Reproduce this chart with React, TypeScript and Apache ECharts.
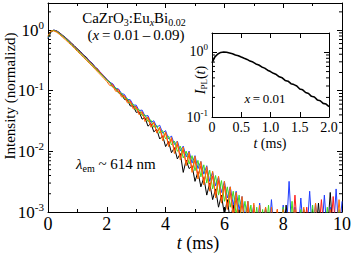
import React, { useEffect, useRef } from 'react';
import * as echarts from 'echarts';

const FONT = 'Liberation Serif';

// time grids (ms)
const tMain: number[] = Array.from({ length: 101 }, (_, i) => Math.round(i * 10) / 100);
const tInset: number[] = Array.from({ length: 41 }, (_, i) => Math.round(i * 5) / 100);

const seriesNames = ['x = 0.01', 'x = 0.03', 'x = 0.05', 'x = 0.07', 'x = 0.09'];
const seriesColors = ['#000000', '#1f3cff', '#ff1a1a', '#3fdc1e', '#ff6a00'];

const blackVals = [
  0.72, 0.93, 1.0, 0.97, 0.9, 0.82, 0.75, 0.68, 0.61, 0.55,
  0.49, 0.445, 0.39, 0.36, 0.31, 0.285, 0.245, 0.225, 0.19, 0.175,
  0.15, 0.14, 0.115, 0.11, 0.092, 0.088, 0.072, 0.07, 0.056, 0.056,
  0.044, 0.045, 0.034, 0.036, 0.026, 0.029, 0.021, 0.023, 0.016, 0.018,
  0.012, 0.0145, 0.0095, 0.0115, 0.0075, 0.0092, 0.0045, 0.0072, 0.0052, 0.0058,
  0.0032, 0.0046, 0.0026, 0.0037, 0.0019, 0.003, 0.0016, 0.0024, 0.0012, 0.0019,
  0.0009, 0.0016, 0.0007, 0.0013, 0.0005, 0.0011, 0.0004, 0.0009, 0.0004, 0.0004,
  0.0008, 0.0004, 0.0004, 0.0004, 0.0012, 0.0004, 0.0004, 0.0004, 0.0004, 0.0004,
  0.0004, 0.0013, 0.0004, 0.0004, 0.0004, 0.0004, 0.0004, 0.0011, 0.0004, 0.0004,
  0.0004, 0.0004, 0.0014, 0.0004, 0.0004, 0.0004, 0.0021, 0.0004, 0.0004, 0.0004,
  0.0004,
];

const blueVals = [
  0.74, 0.95, 1.0, 0.96, 0.89, 0.81, 0.74, 0.67, 0.6, 0.54,
  0.48, 0.435, 0.39, 0.35, 0.315, 0.28, 0.25, 0.222, 0.198, 0.176,
  0.156, 0.137, 0.131, 0.11, 0.107, 0.09, 0.087, 0.072, 0.071, 0.058,
  0.058, 0.047, 0.048, 0.038, 0.039, 0.03, 0.032, 0.025, 0.027, 0.02,
  0.022, 0.016, 0.018, 0.013, 0.0148, 0.0102, 0.0122, 0.0081, 0.0101, 0.0064,
  0.0085, 0.0052, 0.0068, 0.0042, 0.0058, 0.0032, 0.0046, 0.0027, 0.0038, 0.0021,
  0.0032, 0.0017, 0.0026, 0.0013, 0.0022, 0.0011, 0.0018, 0.0008, 0.0015, 0.0007,
  0.0013, 0.0005, 0.0014, 0.0004, 0.0011, 0.0004, 0.0016, 0.0004, 0.0009, 0.0004,
  0.0013, 0.0004, 0.0032, 0.0004, 0.0012, 0.0004, 0.0017, 0.0004, 0.0004, 0.0022,
  0.0004, 0.0014, 0.0004, 0.0004, 0.0019, 0.0004, 0.0012, 0.0004, 0.0024, 0.0004,
  0.0015,
];

const redVals = [
  0.78, 0.96, 0.99, 0.95, 0.88, 0.8, 0.73, 0.66, 0.59, 0.53,
  0.475, 0.43, 0.385, 0.345, 0.31, 0.275, 0.245, 0.22, 0.195, 0.172,
  0.153, 0.133, 0.127, 0.105, 0.104, 0.084, 0.083, 0.068, 0.068, 0.054,
  0.055, 0.043, 0.045, 0.034, 0.037, 0.027, 0.03, 0.021, 0.024, 0.017,
  0.02, 0.013, 0.016, 0.0105, 0.013, 0.0082, 0.0105, 0.0064, 0.0088, 0.005,
  0.0072, 0.0039, 0.0058, 0.0031, 0.0049, 0.0026, 0.0039, 0.0019, 0.0033, 0.0015,
  0.0027, 0.0012, 0.0021, 0.0009, 0.0017, 0.0007, 0.0014, 0.0006, 0.0012, 0.0005,
  0.0011, 0.0004, 0.0009, 0.0004, 0.0004, 0.0008, 0.0004, 0.0004, 0.0011, 0.0004,
  0.0004, 0.0004, 0.0009, 0.0004, 0.0019, 0.0004, 0.0004, 0.0004, 0.0012, 0.0004,
  0.0004, 0.0004, 0.0004, 0.0016, 0.0004, 0.0004, 0.0004, 0.0018, 0.0004, 0.0004,
  0.0004,
];

const greenVals = [
  0.76, 0.96, 0.99, 0.94, 0.87, 0.79, 0.72, 0.65, 0.58, 0.52,
  0.465, 0.42, 0.375, 0.335, 0.3, 0.268, 0.238, 0.212, 0.189, 0.168,
  0.149, 0.138, 0.116, 0.112, 0.093, 0.091, 0.075, 0.074, 0.06, 0.06,
  0.048, 0.049, 0.039, 0.04, 0.031, 0.033, 0.025, 0.027, 0.02, 0.022,
  0.016, 0.018, 0.0128, 0.0148, 0.01, 0.0122, 0.0078, 0.0101, 0.0062, 0.0085,
  0.0048, 0.0071, 0.0038, 0.006, 0.003, 0.0049, 0.0024, 0.004, 0.0019, 0.0033,
  0.0015, 0.0026, 0.0012, 0.0022, 0.0009, 0.0019, 0.0007, 0.0015, 0.0006, 0.0013,
  0.0005, 0.0012, 0.0004, 0.0011, 0.0004, 0.0013, 0.0004, 0.0009, 0.0004, 0.0004,
  0.0012, 0.0004, 0.0004, 0.0015, 0.0004, 0.0004, 0.0011, 0.0004, 0.0004, 0.0004,
  0.0013, 0.0004, 0.0004, 0.0004, 0.0004, 0.0012, 0.0004, 0.0004, 0.0004, 0.0011,
  0.0004,
];

const orangeVals = [
  0.8, 0.97, 0.97, 0.92, 0.84, 0.76, 0.69, 0.62, 0.56, 0.5,
  0.445, 0.4, 0.357, 0.32, 0.285, 0.255, 0.227, 0.202, 0.18, 0.16,
  0.142, 0.122, 0.12, 0.098, 0.098, 0.079, 0.08, 0.063, 0.065, 0.05,
  0.053, 0.04, 0.044, 0.031, 0.036, 0.025, 0.03, 0.02, 0.025, 0.015,
  0.021, 0.012, 0.017, 0.0092, 0.0145, 0.0072, 0.0118, 0.0058, 0.0098, 0.0045,
  0.0083, 0.0035, 0.0068, 0.0028, 0.0056, 0.0022, 0.0047, 0.0017, 0.0039, 0.0014,
  0.0032, 0.0011, 0.0026, 0.0008, 0.0021, 0.0006, 0.0018, 0.0005, 0.0015, 0.0004,
  0.0014, 0.0004, 0.0013, 0.0004, 0.0012, 0.0004, 0.0012, 0.0004, 0.0011, 0.0004,
  0.0011, 0.0004, 0.001, 0.0004, 0.0011, 0.0004, 0.0004, 0.0012, 0.0004, 0.0004,
  0.0004, 0.0014, 0.0004, 0.0004, 0.0004, 0.0004, 0.0011, 0.0004, 0.0004, 0.0016,
  0.0004,
];

const insetVals = [
  0.68, 0.84, 0.93, 0.985, 1.0, 0.99, 0.965, 0.94, 0.9, 0.875,
  0.835, 0.8, 0.77, 0.725, 0.7, 0.655, 0.63, 0.59, 0.565, 0.525,
  0.5, 0.47, 0.45, 0.415, 0.4, 0.365, 0.355, 0.325, 0.315, 0.3,
  0.27, 0.262, 0.238, 0.23, 0.208, 0.203, 0.183, 0.178, 0.162, 0.158,
  0.145,
];

const mainSeriesVals = [blackVals, blueVals, redVals, greenVals, orangeVals];

// axis ranges
const mainX = [0, 10];
const mainY = [0.001, 2.8];
const insetX = [0, 2];
const insetY = [0.1, 1.96];

function minorLogTicks(lo: number, hi: number): number[] {
  const out: number[] = [];
  for (let d = Math.floor(Math.log10(lo)); d <= Math.ceil(Math.log10(hi)); d++) {
    for (let k = 2; k <= 9; k++) {
      const v = k * Math.pow(10, d);
      if (v > lo && v < hi * 0.999) out.push(v);
    }
  }
  return out;
}

const powLabel = (v: number) => {
  const e = Math.log10(v);
  const r = Math.round(e);
  if (Math.abs(e - r) > 1e-6) return '';
  return `{b|10}{s|${r}}`;
};

function powRich(size: number, sup: number) {
  return {
    b: { fontSize: size, fontFamily: FONT, color: '#000', lineHeight: size + 4 },
    s: { fontSize: sup, fontFamily: FONT, color: '#000', lineHeight: sup, verticalAlign: 'top' },
  };
}

const axisLineStyle = { show: true, lineStyle: { color: '#000', width: 1 } };

function tickRenderer(x0: number, x1: number, len: number) {
  return (params: any, api: any) => {
    const v = api.value(1);
    const p0 = api.coord([x0, v]);
    const p1 = api.coord([x1, v]);
    return {
      type: 'group',
      children: [
        { type: 'line', shape: { x1: p0[0], y1: p0[1], x2: p0[0] + len, y2: p0[1] }, style: { stroke: '#000', lineWidth: 1 } },
        { type: 'line', shape: { x1: p1[0] - len, y1: p1[1], x2: p1[0], y2: p1[1] }, style: { stroke: '#000', lineWidth: 1 } },
      ],
    };
  };
}

export default function App() {
  const ref = useRef<HTMLDivElement>(null);
  useEffect(() => {
    const chart = echarts.init(ref.current!, null, { renderer: 'svg' });

    const xBase = (gridIndex: number, range: number[], interval: number, pos: 'bottom' | 'top', labels: boolean, fs: number, fmt: (v: number) => string, minor: boolean) => ({
      type: 'value',
      gridIndex,
      position: pos,
      min: range[0],
      max: range[1],
      interval,
      axisLine: { ...axisLineStyle, onZero: false },
      axisTick: { show: true, inside: true, length: 5, lineStyle: { color: '#000' } },
      minorTick: { show: minor, splitNumber: 2, length: 3, lineStyle: { color: '#000' } },
      splitLine: { show: false },
      axisLabel: { show: labels, fontFamily: FONT, fontSize: fs, color: '#000', margin: 3, formatter: fmt },
    });

    const yBase = (gridIndex: number, range: number[], pos: 'left' | 'right', labels: boolean, fs: number, sup: number) => ({
      type: 'log',
      logBase: 10,
      gridIndex,
      position: pos,
      min: range[0],
      max: range[1],
      axisLine: { ...axisLineStyle, onZero: false },
      axisTick: { show: true, inside: true, length: 5, lineStyle: { color: '#000' } },
      splitLine: { show: false },
      axisLabel: { show: labels, margin: 4, fontFamily: FONT, formatter: powLabel, rich: powRich(fs, sup) },
    });

    const mainLines = mainSeriesVals.map((vals, k) => ({
      type: 'line',
      name: seriesNames[k],
      xAxisIndex: 0,
      yAxisIndex: 0,
      data: tMain.map((t, i) => [t, vals[i]]),
      showSymbol: false,
      symbol: 'none',
      clip: true,
      lineStyle: { color: seriesColors[k], width: 1 },
      z: 2 + k,
    }));

    const minorMain = minorLogTicks(mainY[0], mainY[1]);
    const minorInset = minorLogTicks(insetY[0], insetY[1]);

    const option: any = {
      animation: false,
      backgroundColor: '#fff',
      textStyle: { fontFamily: FONT },
      grid: [
        { left: 48, top: 3, right: 10, bottom: 43, show: false },
        { left: 212, top: 33, width: 117, height: 84, show: true, backgroundColor: '#fff', borderWidth: 0 },
      ],
      xAxis: [
        xBase(0, mainX, 2, 'bottom', true, 18, (v: number) => String(v), true),
        xBase(0, mainX, 2, 'top', false, 18, (v: number) => String(v), true),
        xBase(1, insetX, 0.5, 'bottom', true, 14, (v: number) => (v === 0 ? '0' : v.toFixed(1)), false),
        xBase(1, insetX, 0.5, 'top', false, 14, (v: number) => String(v), false),
      ],
      yAxis: [
        yBase(0, mainY, 'left', true, 17, 11),
        yBase(0, mainY, 'right', false, 17, 11),
        yBase(1, insetY, 'left', true, 14, 9),
        yBase(1, insetY, 'right', false, 14, 9),
      ],
      series: [
        ...mainLines,
        {
          type: 'custom',
          xAxisIndex: 0,
          yAxisIndex: 0,
          data: minorMain.map((v) => [mainX[0], v]),
          renderItem: tickRenderer(mainX[0], mainX[1], 3),
          silent: true,
          clip: false,
          z: 10,
        },
        {
          type: 'line',
          name: 'inset',
          xAxisIndex: 2,
          yAxisIndex: 2,
          data: tInset.map((t, i) => [t, insetVals[i]]),
          showSymbol: false,
          symbol: 'none',
          lineStyle: { color: '#000', width: 1.6 },
          z: 5,
        },
        {
          type: 'custom',
          xAxisIndex: 2,
          yAxisIndex: 2,
          data: minorInset.map((v) => [insetX[0], v]),
          renderItem: tickRenderer(insetX[0], insetX[1], 3),
          silent: true,
          clip: false,
          z: 10,
        },
      ],
      graphic: [
        {
          type: 'text', x: 134, y: 18,
          style: {
            text: '{n|CaZrO}{sub|3}{n|:Eu}{subi|x}{n|Bi}{sub|0.02}',
            align: 'center', verticalAlign: 'middle',
            rich: {
              n: { fontFamily: FONT, fontSize: 15, fill: '#000', lineHeight: 18 },
              sub: { fontFamily: FONT, fontSize: 10, fill: '#000', lineHeight: 10, verticalAlign: 'bottom' },
              subi: { fontFamily: FONT, fontSize: 10, fontStyle: 'italic', fill: '#000', lineHeight: 10, verticalAlign: 'bottom' },
            },
          },
        },
        {
          type: 'text', x: 136, y: 35,
          style: {
            text: '{n|(}{i|x}{n|\u2009=\u20090.01\u2009\u2013\u20090.09)}',
            align: 'center', verticalAlign: 'middle',
            rich: {
              n: { fontFamily: FONT, fontSize: 15, fill: '#000' },
              i: { fontFamily: FONT, fontSize: 15, fontStyle: 'italic', fill: '#000' },
            },
          },
        },
        {
          type: 'text', x: 76, y: 164,
          style: {
            text: '{i|\u03bb}{sub|em}{n| ~ 614 nm}',
            align: 'left', verticalAlign: 'middle',
            rich: {
              n: { fontFamily: FONT, fontSize: 15, fill: '#000', lineHeight: 18 },
              i: { fontFamily: FONT, fontSize: 15, fontStyle: 'italic', fill: '#000', lineHeight: 18 },
              sub: { fontFamily: FONT, fontSize: 10, fill: '#000', lineHeight: 10, verticalAlign: 'bottom' },
            },
          },
        },
        {
          type: 'text', x: 10, y: 96, rotation: Math.PI / 2,
          style: {
            text: 'Intensity (normalizd)',
            fontFamily: FONT, fontSize: 15, fill: '#000',
            align: 'center', verticalAlign: 'middle',
          },
        },
        {
          type: 'text', x: 198, y: 243,
          style: {
            text: '{i|t}{n| (ms)}',
            align: 'center', verticalAlign: 'middle',
            rich: {
              n: { fontFamily: FONT, fontSize: 18, fill: '#000' },
              i: { fontFamily: FONT, fontSize: 18, fontStyle: 'italic', fill: '#000' },
            },
          },
        },
        {
          type: 'text', x: 270, y: 143,
          style: {
            text: '{i|t}{n| (ms)}',
            align: 'center', verticalAlign: 'middle',
            rich: {
              n: { fontFamily: FONT, fontSize: 14, fill: '#000' },
              i: { fontFamily: FONT, fontSize: 14, fontStyle: 'italic', fill: '#000' },
            },
          },
        },
        {
          type: 'text', x: 265, y: 98, z: 20,
          style: {
            text: '{i|x}{n|\u2009=\u20090.01}',
            align: 'center', verticalAlign: 'middle',
            rich: {
              n: { fontFamily: FONT, fontSize: 13, fill: '#000' },
              i: { fontFamily: FONT, fontSize: 13, fontStyle: 'italic', fill: '#000' },
            },
          },
        },
        {
          type: 'text', x: 200, y: 80, rotation: Math.PI / 2,
          style: {
            text: '{i|I}{sub|PL}{n|(}{i|t}{n|)}',
            align: 'center', verticalAlign: 'middle',
            rich: {
              n: { fontFamily: FONT, fontSize: 14, fill: '#000', lineHeight: 16 },
              i: { fontFamily: FONT, fontSize: 14, fontStyle: 'italic', fill: '#000', lineHeight: 16 },
              sub: { fontFamily: FONT, fontSize: 9, fill: '#000', lineHeight: 9, verticalAlign: 'bottom' },
            },
          },
        },
      ],
    };

    chart.setOption(option);
    return () => chart.dispose();
  }, []);
  return <div ref={ref} style={{ position: 'fixed', left: 0, top: 0, width: 354, height: 255 }} />;
}
